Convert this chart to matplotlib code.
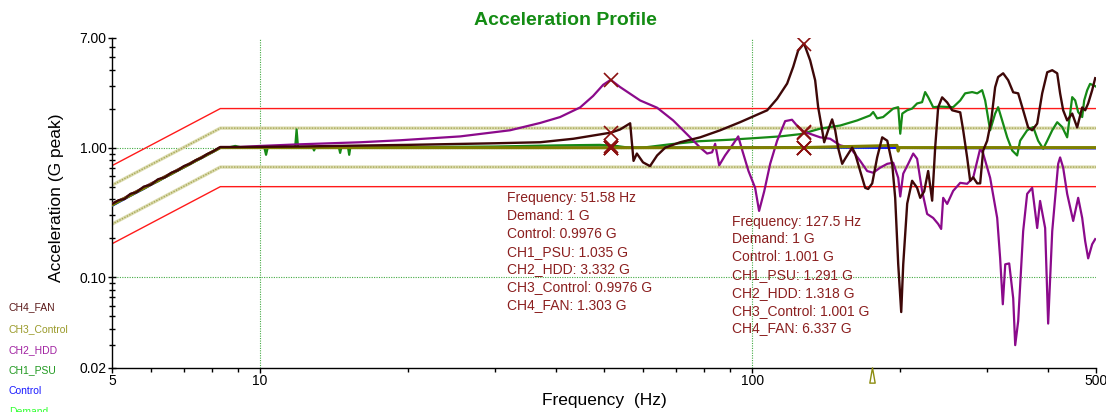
import matplotlib
matplotlib.use("Agg")
import matplotlib.pyplot as plt
from matplotlib.ticker import FixedLocator, NullFormatter, FixedFormatter
from matplotlib.transforms import blended_transform_factory
from matplotlib.path import Path

plt.rcParams['font.family'] = ['Liberation Sans', 'DejaVu Sans']

# ---------------- data ----------------
low_f = [5.0, 5.15, 5.3, 5.45, 5.6, 5.8, 6.0, 6.2, 6.4, 6.6,
         6.8, 7.0, 7.2, 7.4, 7.6, 7.8, 8.0, 8.15, 8.3]

demand_f = [5.0, 8.3, 500.0]
demand_v = [0.363, 1.0, 1.0]

control_f = low_f + [51.58, 127.5, 250.0, 500.0]
control_v = [0.355, 0.378, 0.40, 0.425, 0.448, 0.48, 0.516, 0.55, 0.588, 0.624,
             0.664, 0.703, 0.745, 0.788, 0.83, 0.875, 0.92, 0.958, 0.995,
             0.9976, 1.001, 0.99, 0.985]

psu_f = low_f + [8.6, 8.9, 9.2, 10.2, 10.28, 10.36, 11.78, 11.86, 11.94, 12.8,
                 12.87, 12.94, 14.46, 14.54, 14.62, 15.09, 15.17, 15.25, 20, 30,
                 40, 49, 53, 56, 60, 68, 78, 90, 100, 114,
                 125.2, 127.5, 137.5, 151, 163.5, 173.7, 176.2, 179.5, 184.6, 193.5,
                 198.1, 200, 201.9, 206.6, 211.4, 216.4, 221.5, 224.7, 227.9, 233.3,
                 241.1, 256.2, 264.8, 270.9, 280, 286.7, 293.4, 297.6, 304.6, 311.8,
                 316.2, 322.2, 329.9, 337.7, 345.6, 350.5, 362.2, 372.6, 381.3, 390.5,
                 397.9, 407.3, 416.9, 426.8, 436.8, 447.2, 453.5, 459.9, 468.6, 473,
                 479.7, 486.2, 498, 500]
psu_v = [0.358, 0.38, 0.405, 0.426, 0.451, 0.483, 0.52, 0.552, 0.59, 0.626,
         0.666, 0.705, 0.747, 0.79, 0.833, 0.878, 0.925, 0.96, 1.0,
         1.0, 1.03, 1.0, 1.0, 0.88, 1.0, 1.0, 1.38, 1.0, 1.0,
         0.95, 1.0, 1.0, 0.91, 1.0, 1.0, 0.88, 1.0, 1.01, 1.02,
         1.04, 1.05, 1.03, 1.0, 1.0, 1.06, 1.12, 1.15, 1.18, 1.22,
         1.27, 1.291, 1.40, 1.48, 1.62, 1.77, 1.88, 1.68, 1.72, 2.0,
         2.05, 1.28, 1.83, 1.94, 2.0, 2.19, 2.24, 2.68, 2.45, 2.05,
         2.07, 2.05, 2.31, 2.62, 2.68, 2.62, 2.77, 2.31, 1.36, 1.83,
         2.05, 1.62, 1.2, 0.95, 0.87, 1.13, 1.36, 1.44, 1.13, 0.98,
         1.13, 1.36, 1.57, 1.44, 1.2, 2.45, 2.31, 1.88, 1.72, 2.31,
         2.77, 3.1, 2.98, 2.95]

hdd_f = low_f + [9.0, 10, 12, 16, 19.3, 25.5, 32.2, 37.1, 40.7, 44.7,
                 47.5, 49.8, 51.58, 53.9, 59.2, 64.1, 69.1, 74.8, 78.4, 81.0,
                 82.9, 84.1, 85.7, 88.1, 91.1, 93.7, 95.5, 98.3, 101.4, 103.3,
                 105.8, 108.8, 112.4, 116.7, 120.5, 123.3, 127.5, 129.4, 137.5, 144.1,
                 151, 158.2, 165.8, 171.3, 176.2, 182, 188.2, 193.5, 198.1, 200,
                 202.8, 207.6, 212.5, 216.4, 221.5, 226.8, 233.3, 238.8, 242.2, 244.5,
                 249.1, 256.2, 264.8, 273.5, 281.3, 290.7, 294.8, 304.6, 314.8, 319.2,
                 323.2, 326.9, 333, 339.3, 342.5, 347.3, 355.5, 362.2, 370.8, 379.6,
                 384.8, 394, 399.6, 407.3, 412.9, 418.8, 422.6, 428.7, 436.8, 449.3,
                 459.9, 468.6, 475.2, 481.9, 491, 498]
hdd_v = [0.37, 0.39, 0.41, 0.437, 0.46, 0.493, 0.53, 0.562, 0.60, 0.637,
         0.678, 0.716, 0.758, 0.80, 0.845, 0.888, 0.935, 0.97, 1.01,
         1.01, 1.03, 1.06, 1.10, 1.14, 1.22, 1.36, 1.55, 1.72, 2.04,
         2.5, 3.05, 3.332, 2.93, 2.31, 2.03, 1.62, 1.2, 1.0, 0.9,
         0.92, 1.07, 0.73, 0.87, 1.04, 1.22, 0.95, 0.66, 0.49, 0.325,
         0.46, 0.75, 1.13, 1.6, 1.64, 1.48, 1.318, 1.30, 1.2, 1.17,
         1.04, 1.0, 0.79, 0.66, 0.64, 0.70, 0.75, 0.765, 0.585, 0.42,
         0.63, 0.75, 0.9, 0.82, 0.464, 0.308, 0.287, 0.258, 0.236, 0.41,
         0.368, 0.464, 0.535, 0.526, 0.585, 0.98, 0.9, 0.585, 0.287, 0.14,
         0.062, 0.126, 0.128, 0.069, 0.030, 0.046, 0.227, 0.44, 0.49, 0.24,
         0.388, 0.24, 0.044, 0.227, 0.41, 0.75, 0.84, 0.70, 0.44, 0.272,
         0.41, 0.287, 0.19, 0.14, 0.18, 0.197]

ch3_f = low_f + [51.58, 127.5, 197.0, 198.1, 199.0, 500.0]
ch3_v = [0.362, 0.386, 0.406, 0.43, 0.456, 0.486, 0.522, 0.556, 0.594, 0.63,
         0.67, 0.71, 0.75, 0.794, 0.837, 0.882, 0.928, 0.963, 1.0,
         0.9976, 1.001, 1.04, 0.94, 1.0, 1.0]

fan_f = low_f + [9.0, 12, 20, 30, 37.1, 43.3, 50.7, 51.58, 53.9, 56.5,
                 57.4, 58.3, 60.0, 62.0, 64.1, 66.6, 71.4, 78.4, 86.1, 94.5,
                 100.5, 107.3, 112.4, 117.8, 121.2, 124.0, 127.5, 131.2, 134.3, 136.2,
                 138.8, 140.1, 142.7, 145.4, 147.5, 149.5, 152.4, 154.5, 159.7, 161.9,
                 165.8, 169.7, 172.1, 175.4, 179.5, 183.8, 188.2, 192.6, 195.3, 198.1,
                 200.9, 202.8, 206.6, 211.4, 216.4, 219.6, 223.7, 227.9, 232.2, 235.5,
                 238.8, 243.3, 249.1, 255.0, 264.8, 268.5, 273.5, 277.4, 281.3, 286.7,
                 290.7, 294.8, 300.4, 306.1, 311.8, 316.2, 323.7, 331.4, 339.3, 347.3,
                 355.5, 363.9, 370.8, 379.6, 388.6, 397.9, 407.3, 416.9, 422.6, 428.7,
                 436.8, 447.2, 457.7, 468.6, 475.2, 481.9, 491, 498]
fan_v = [0.368, 0.392, 0.402, 0.44, 0.452, 0.50, 0.518, 0.57, 0.59, 0.64,
         0.668, 0.72, 0.75, 0.80, 0.835, 0.89, 0.93, 0.97, 1.01,
         1.01, 1.02, 1.05, 1.08, 1.1, 1.17, 1.29, 1.303, 1.38, 1.54,
         0.79, 0.9, 0.77, 0.72, 0.87, 1.0, 1.1, 1.2, 1.36, 1.57,
         1.74, 1.94, 2.38, 3.12, 4.2, 5.6, 6.337, 4.7, 3.3, 2.05,
         1.36, 1.1, 1.36, 1.65, 1.36, 1.0, 0.75, 0.82, 1.0, 0.9,
         0.66, 0.49, 0.48, 0.53, 0.84, 1.2, 1.13, 0.75, 0.41, 0.126,
         0.054, 0.126, 0.37, 0.555, 0.49, 0.41, 0.46, 0.66, 0.39, 1.0,
         2.04, 2.44, 2.23, 1.94, 1.87, 1.36, 0.84, 0.555, 0.59, 0.53,
         0.53, 0.95, 1.13, 1.62, 2.92, 3.5, 3.74, 3.31, 2.67, 2.62,
         1.94, 1.43, 1.36, 1.53, 2.62, 3.81, 3.95, 3.74, 2.62, 1.94,
         1.62, 1.83, 1.43, 2.04, 1.94, 2.19, 2.77, 3.43]

# tolerance bands (ratios to demand)
alarm_ratios = [1.413, 0.708]
abort_ratios = [2.0, 0.5]

# cursor readouts
cursor_freqs = [51.58, 127.5]
read_demand = [1, 1]
read_control = [0.9976, 1.001]
read_psu = [1.035, 1.291]
read_hdd = [3.332, 1.318]
read_ch3 = [0.9976, 1.001]
read_fan = [1.303, 6.337]

sweep_freq = 175.0

x_major = [5, 10, 100, 500]
x_major_labels = ['5', '10', '100', '500']
x_minor = [6, 7, 8, 9, 20, 30, 40, 50, 60, 70, 80, 90, 200, 300, 400]
y_major = [0.02, 0.1, 1.0, 7.0]
y_major_labels = ['0.02', '0.10', '1.00', '7.00']
y_minor = [0.03, 0.04, 0.05, 0.06, 0.07, 0.08, 0.09,
           0.2, 0.3, 0.4, 0.5, 0.6, 0.7, 0.8, 0.9, 2, 3, 4, 5, 6]
grid_x = [10, 100]
grid_y = [0.1, 1.0]

series_names = ['CH4_FAN', 'CH3_Control', 'CH2_HDD', 'CH1_PSU', 'Control', 'Demand']

# ---------------- style ----------------
C_FAN = '#3e0808'
C_CH3 = '#7f7f00'
C_HDD = '#8b0a8b'
C_PSU = '#168a16'
C_CTRL = '#1010ff'
C_DEM = '#22ee22'
C_TXT = '#8b1f1f'
label_colors = ['#5a1818', '#9a9a2a', '#a020a0', '#1f991f', '#1a1aff', '#33ff33']

fig = plt.figure(figsize=(11.06, 4.12), dpi=100)
ax = fig.add_axes([0.1013, 0.1068, 0.8897, 0.801])
ax.set_xscale('log')
ax.set_yscale('log')
ax.set_xlim(5, 500)
ax.set_ylim(0.02, 7.0)

for s in ['top', 'right']:
    ax.spines[s].set_visible(False)
for s in ['left', 'bottom']:
    ax.spines[s].set_linewidth(1.0)
    ax.spines[s].set_color('black')

# grid
for g in grid_x:
    ax.axvline(g, color='#44aa44', lw=0.8, ls=(0, (1, 1.2)), zorder=1)
for g in grid_y:
    ax.axhline(g, color='#44aa44', lw=0.8, ls=(0, (1, 1.2)), zorder=1)

# tolerance lines
for r in alarm_ratios:
    ax.plot(demand_f, [v * r for v in demand_v], color='#dcdcb0', lw=2.4, zorder=2)
    ax.plot(demand_f, [v * r for v in demand_v], color='#a8a858', lw=1.0,
            ls=(0, (1.0, 1.0)), zorder=2)
for r in abort_ratios:
    ax.plot(demand_f, [v * r for v in demand_v], color='#ff1a1a', lw=1.0, zorder=2)

# traces
ax.plot(demand_f, demand_v, color=C_DEM, lw=1.5, zorder=3)
ax.plot(control_f, control_v, color=C_CTRL, lw=1.5, zorder=4)
ax.plot(psu_f, psu_v, color=C_PSU, lw=1.6, zorder=5)
ax.plot(hdd_f, hdd_v, color=C_HDD, lw=1.6, zorder=6)
ax.plot(ch3_f, ch3_v, color=C_CH3, lw=2.2, zorder=7)
ax.plot(fan_f, fan_v, color=C_FAN, lw=1.7, zorder=8)

# cursor markers
for i, f in enumerate(cursor_freqs):
    vals = [read_demand[i], read_control[i], read_psu[i], read_hdd[i], read_ch3[i], read_fan[i]]
    ax.plot([f] * len(vals), vals, ls='none', marker='x', ms=10, mew=1.2,
            color='#8b1010', zorder=10)

# readout text
blocks = [(0.4014, 0.5142), (0.6298, 0.4433)]
step = 0.0539
for i, f in enumerate(cursor_freqs):
    lines = [f"Frequency: {f:.4g} Hz",
             f"Demand: {read_demand[i]:.4g} G",
             f"Control: {read_control[i]:.4g} G",
             f"CH1_PSU: {read_psu[i]:.4g} G",
             f"CH2_HDD: {read_hdd[i]:.4g} G",
             f"CH3_Control: {read_ch3[i]:.4g} G",
             f"CH4_FAN: {read_fan[i]:.4g} G"]
    x0, y0 = blocks[i]
    for k, t in enumerate(lines):
        ax.text(x0, y0 - k * step, t, transform=ax.transAxes, fontsize=10,
                color=C_TXT, ha='left', va='center', zorder=11)

# sweep position marker on x axis
tri = Path([(0, 1), (-0.35, -1), (0.35, -1), (0, 1)],
           [Path.MOVETO, Path.LINETO, Path.LINETO, Path.CLOSEPOLY])
trans = blended_transform_factory(ax.transData, ax.transAxes)
ax.plot([sweep_freq], [-0.021], marker=tri, ms=11, mfc='none', mec='#8c8c10',
        mew=1.0, transform=trans, clip_on=False, zorder=12)

# ticks
ax.xaxis.set_major_locator(FixedLocator(x_major))
ax.xaxis.set_major_formatter(FixedFormatter(x_major_labels))
ax.xaxis.set_minor_locator(FixedLocator(x_minor))
ax.xaxis.set_minor_formatter(NullFormatter())
ax.yaxis.set_major_locator(FixedLocator(y_major))
ax.yaxis.set_major_formatter(FixedFormatter(y_major_labels))
ax.yaxis.set_minor_locator(FixedLocator(y_minor))
ax.yaxis.set_minor_formatter(NullFormatter())
ax.tick_params(axis='x', which='major', direction='out', length=3.5, width=1,
               labelsize=10, pad=0.5)
ax.tick_params(axis='x', which='minor', direction='out', length=3, width=1)
ax.tick_params(axis='y', which='major', direction='inout', length=6, width=1,
               labelsize=10, pad=1)
ax.tick_params(axis='y', which='minor', direction='inout', length=4, width=1)

# titles / labels
fig.text(0.511, 0.951, 'Acceleration Profile', color='#148c14', fontsize=14,
         fontweight='bold', ha='center', va='center')
fig.text(0.0515, 0.5206, 'Acceleration (G peak)', rotation=90, fontsize=12.5,
         ha='center', va='center')
fig.text(0.546, 0.0267, 'Frequency  (Hz)', fontsize=12.5, ha='center', va='center')

# series labels (left legend)
label_y = [0.2549, 0.2002, 0.1505, 0.1007, 0.0510, 0.0]
for name, col, yy in zip(series_names, label_colors, label_y):
    fig.text(0.0081, yy, name, color=col, fontsize=7.5, ha='left', va='center')

fig.savefig('out.png', dpi=100)
